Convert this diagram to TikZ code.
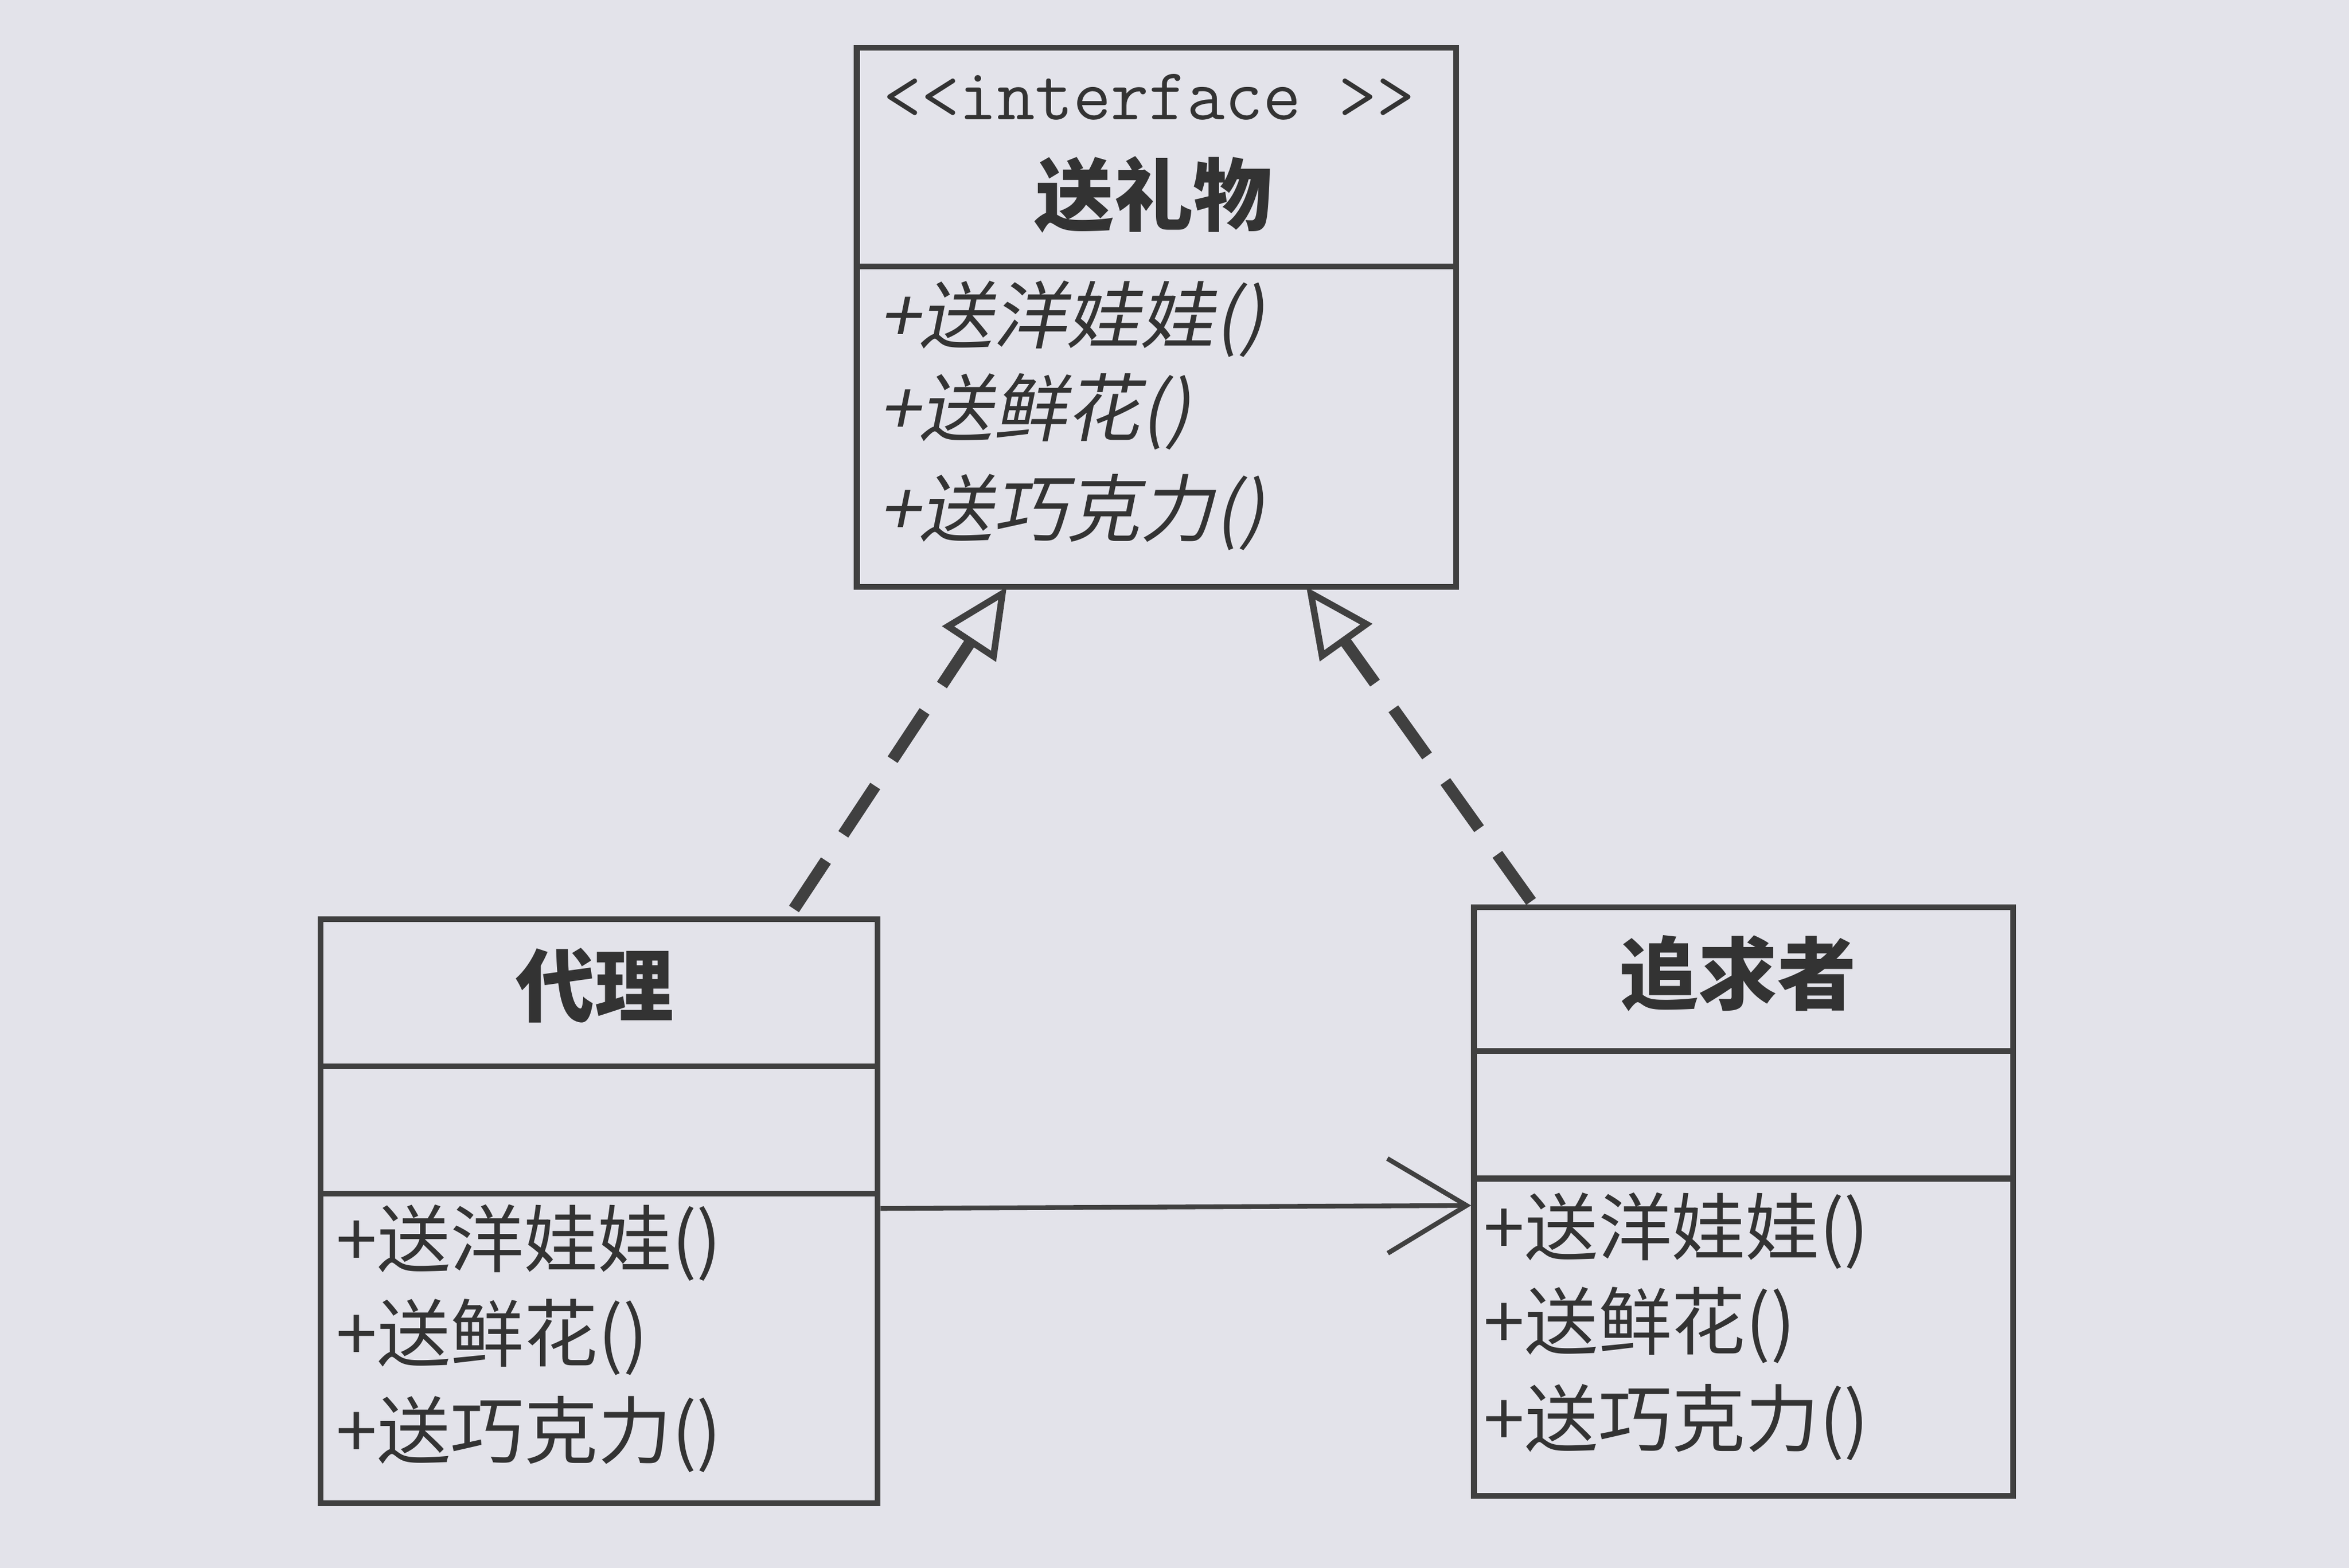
\documentclass[tikz,border=0pt]{standalone}
\usepackage{fontspec}
\newfontfamily\cjk{Noto Sans CJK SC}
\newfontfamily\cjkit[FakeSlant=0.2]{Noto Sans CJK SC}
\usetikzlibrary{arrows.meta}
\begin{document}
\begin{tikzpicture}[x=0.02cm,y=-0.02cm,
  box/.style={draw=black!75,line width=2.2pt,fill=none},
  div/.style={draw=black!75,line width=2.2pt},
  meth/.style={anchor=west,font=\cjk\fontsize{28}{30}\selectfont,text=black!80,inner sep=0pt},
  imeth/.style={anchor=west,font=\cjkit\fontsize{28}{30}\selectfont,text=black!80,inner sep=0pt},
  title/.style={font=\cjk\bfseries\fontsize{30}{32}\selectfont,text=black!80},
  real/.style={line width=4.5pt,draw=black!75,dash pattern=on 22pt off 12pt,-{Triangle[open,length=26pt,width=24pt,line width=2.5pt]}},
  assoc/.style={line width=1.8pt,draw=black!75,-{Straight Barb[length=30pt,width=36pt,line width=1.8pt]}}]
\fill[black!4!blue!3!white!92!black] (0,0) rectangle (1568,1047);
\useasboundingbox (0,0) rectangle (1568,1047);
% interface
\node[box,minimum width=8cm,minimum height=7.2cm,anchor=north west] (I) at (570,30) {};
\draw[div] (570,178) -- (970,178);
\node[font=\ttfamily\fontsize{28}{30}\selectfont,text=black!80] (Ist) at (767,65) {<<interface >>};
\node[title] (It) at (770,130) {送礼物};
\node[imeth] (I1) at (586,213) {+送洋娃娃()};
\node[imeth] (I2) at (586,275) {+送鲜花()};
\node[imeth] (I3) at (586,342) {+送巧克力()};
% proxy
\node[box,minimum width=7.44cm,minimum height=7.8cm,anchor=north west] (P) at (212,612) {};
\draw[div] (212,712) -- (584,712);
\draw[div] (212,797) -- (584,797);
\node[title] (Pt) at (397,658) {代理};
\node[meth] (P1) at (224,830) {+送洋娃娃()};
\node[meth] (P2) at (224,893) {+送鲜花()};
\node[meth] (P3) at (224,958) {+送巧克力()};
% pursuer
\node[box,minimum width=7.2cm,minimum height=7.86cm,anchor=north west] (Q) at (982,604) {};
\draw[div] (982,702) -- (1342,702);
\draw[div] (982,787) -- (1342,787);
\node[title] (Qt) at (1160,650) {追求者};
\node[meth] (Q1) at (990,822) {+送洋娃娃()};
\node[meth] (Q2) at (990,885) {+送鲜花()};
\node[meth] (Q3) at (990,950) {+送巧克力()};
% connectors
\coordinate (a1) at (530,607); \coordinate (a2) at (672,392);
\coordinate (b1) at (1022,602); \coordinate (b2) at (872,392);
\draw[real] (a1) -- (a2);
\draw[real] (b1) -- (b2);
\draw[assoc] (P.east |- 0,807) -- (Q.west |- 0,805);
\end{tikzpicture}
\end{document}
